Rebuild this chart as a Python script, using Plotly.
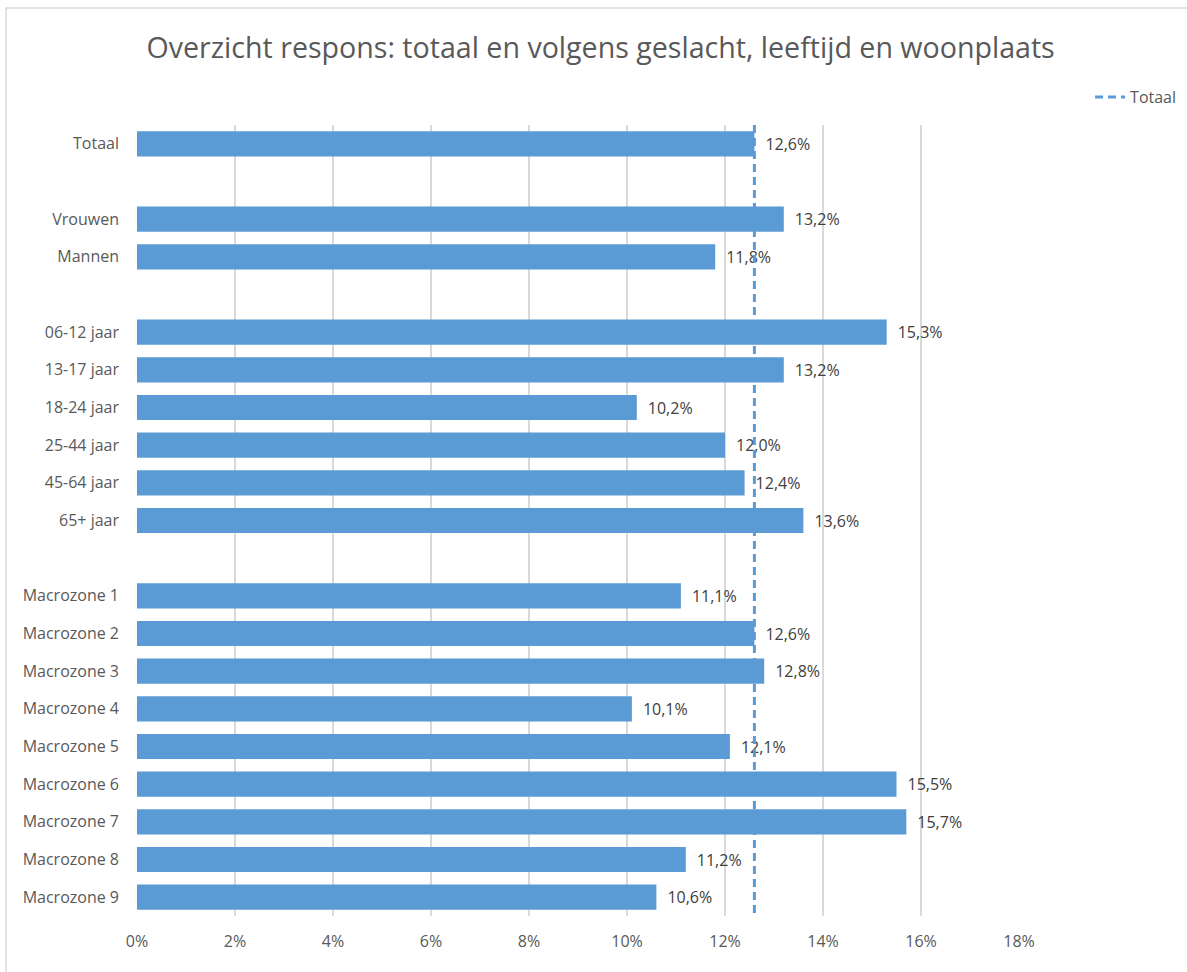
import plotly.graph_objects as go

# Response rates (%) per group
groups = [
    ["Totaal"],
    ["Vrouwen", "Mannen"],
    ["06-12 jaar", "13-17 jaar", "18-24 jaar", "25-44 jaar", "45-64 jaar", "65+ jaar"],
    ["Macrozone 1", "Macrozone 2", "Macrozone 3", "Macrozone 4", "Macrozone 5",
     "Macrozone 6", "Macrozone 7", "Macrozone 8", "Macrozone 9"],
]
group_values = [
    [12.6],
    [13.2, 11.8],
    [15.3, 13.2, 10.2, 12.0, 12.4, 13.6],
    [11.1, 12.6, 12.8, 10.1, 12.1, 15.5, 15.7, 11.2, 10.6],
]
total_rate = 12.6
x_ticks = [0, 2, 4, 6, 8, 10, 12, 14, 16, 18]
x_tick_labels = [f"{t}%" for t in x_ticks]

# Row positions with one empty row between groups
labels, values, rows = [], [], []
pos = 0
for g, vals in zip(groups, group_values):
    for lab, v in zip(g, vals):
        labels.append(lab)
        values.append(v)
        rows.append(pos)
        pos += 1
    pos += 1
n_rows = pos - 1

blue = "#5B9BD5"
grey_text = "#595959"

fig = go.Figure()
fig.add_trace(go.Bar(
    x=values, y=rows, orientation="h",
    marker=dict(color=blue, line=dict(width=0)),
    text=values, texttemplate="\u2002%{x:.1f}%", textposition="outside",
    textfont=dict(color="#404040", size=16),
    cliponaxis=False, showlegend=False, hoverinfo="skip",
))
fig.add_trace(go.Scatter(
    x=[total_rate, total_rate], y=[-0.5, n_rows - 0.5],
    mode="lines", name="Totaal",
    line=dict(color=blue, width=3, dash="8px,5px"),
    cliponaxis=False,
))

fig.update_layout(
    width=1187, height=972,
    margin=dict(l=137, r=168, t=125, b=56),
    paper_bgcolor="white", plot_bgcolor="white",
    separators=",.",
    font=dict(family="Open Sans", color=grey_text, size=16),
    bargap=0.33,
    title=dict(text="Overzicht respons: totaal en volgens geslacht, leeftijd en woonplaats",
               x=0.506, xanchor="center", xref="container",
               y=1 - 48 / 972, yanchor="middle", yref="container",
               font=dict(size=28.6, color=grey_text)),
    legend=dict(x=0.995, xanchor="right", xref="container",
                y=1 - 97 / 972, yanchor="middle", yref="container",
                font=dict(size=16, color=grey_text), bgcolor="rgba(0,0,0,0)"),
    xaxis=dict(range=[0, 18], tickvals=x_ticks, ticktext=x_tick_labels,
               showgrid=True, gridcolor="#D9D9D9", gridwidth=1.5,
               zeroline=False, showline=False, ticks="",
               tickfont=dict(size=16, color=grey_text), ticklabelstandoff=14),
    yaxis=dict(range=[n_rows - 0.5, -0.5], tickvals=rows, ticktext=labels,
               showgrid=False, zeroline=False, showline=False, ticks="",
               tickfont=dict(size=16, color=grey_text), ticklabelstandoff=17),
    shapes=[dict(type="rect", xref="paper", yref="paper",
                 x0=-0.1485, x1=1.4, y0=-0.3, y1=1.148,
                 line=dict(color="#D9D9D9", width=1.5), layer="below")],
)

fig.write_html("out.html")
